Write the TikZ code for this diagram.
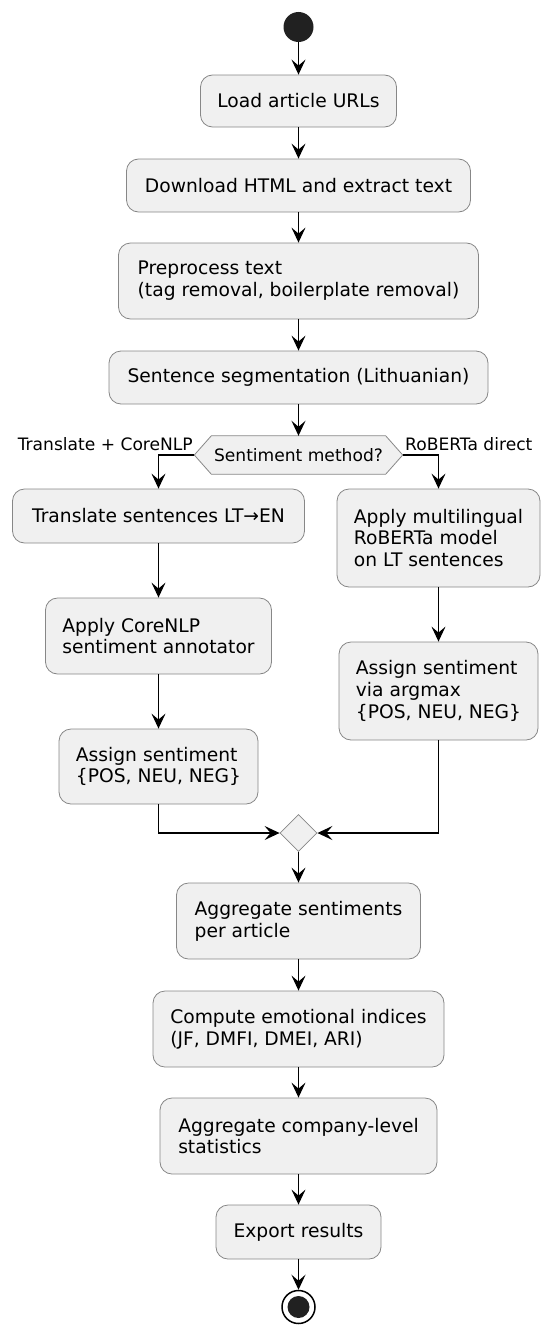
\documentclass[tikz,border=0pt]{standalone}
\usepackage{fontspec}
\setmainfont{DejaVu Sans}
\usetikzlibrary{arrows.meta,shapes.geometric}

\begin{document}
\begin{tikzpicture}[x=1pt,y=-1pt,
  act/.style={draw=black!47,fill=black!6,rounded corners=12pt,line width=0.8pt,
    align=left,inner sep=0pt,font=\fontsize{18.7}{21.8}\selectfont},
  gate/.style={draw=black!47,fill=black!6,line width=0.8pt},
  lbl/.style={inner sep=0pt,font=\fontsize{17.1}{20}\selectfont},
  flow/.style={line width=1.6pt,-{Stealth[length=15pt,width=14pt,inset=6pt]}}]
  \useasboundingbox (0,0) rectangle (550,1338);
  \node[circle,fill=black!87,minimum size=30pt,inner sep=0pt] (start) at (298.5,27) {};
  \node[act,minimum width=196pt,minimum height=52pt] (load) at (298.5,101) {Load article URLs};
  \node[act,minimum width=344pt,minimum height=53pt] (download) at (298.5,185.5) {Download HTML and extract text};
  \node[act,minimum width=360pt,minimum height=76pt] (prep) at (298.5,281) {Preprocess text\\(tag removal, boilerplate removal)};
  \node[act,minimum width=379pt,minimum height=53pt] (seg) at (298.5,377.5) {Sentence segmentation (Lithuanian)};
  \node[minimum width=208pt,minimum height=38pt,inner sep=0pt] (dec) at (298.5,455) {};
  \draw[gate] (dec.west) -- ([xshift=17pt]dec.north west) -- ([xshift=-17pt]dec.north east)
    -- (dec.east) -- ([xshift=-17pt]dec.south east) -- ([xshift=17pt]dec.south west) -- cycle;
  \node[lbl] (dectext) at (dec) {Sentiment method?};
  \node[lbl,anchor=east] (lblleft) at (193,444) {Translate + CoreNLP};
  \node[lbl,anchor=west] (lblright) at (405,444) {RoBERTa direct};
  \node[act,minimum width=292pt,minimum height=54pt] (translate) at (158.5,516) {Translate sentences LT→EN};
  \node[act,minimum width=226pt,minimum height=76pt] (corenlp) at (158.5,636) {Apply CoreNLP\\sentiment annotator};
  \node[act,minimum width=199pt,minimum height=75pt] (assignl) at (158.5,766.5) {Assign sentiment\\\{POS, NEU, NEG\}};
  \node[act,minimum width=203pt,minimum height=98pt] (roberta) at (438.5,538) {Apply multilingual\\RoBERTa model\\on LT sentences};
  \node[act,minimum width=199pt,minimum height=98pt] (assignr) at (438.5,691) {Assign sentiment\\via argmax\\\{POS, NEU, NEG\}};
  \node[diamond,gate,minimum width=37pt,minimum height=37pt,inner sep=0pt] (merge) at (298.5,833) {};
  \node[act,minimum width=244pt,minimum height=76pt] (aggart) at (298.5,921) {Aggregate sentiments\\per article};
  \node[act,minimum width=291pt,minimum height=76pt] (indices) at (298.5,1029) {Compute emotional indices\\(JF, DMFI, DMEI, ARI)};
  \node[act,minimum width=277pt,minimum height=76pt] (aggcomp) at (298.5,1136) {Aggregate company-level\\statistics};
  \node[act,minimum width=165pt,minimum height=54pt] (export) at (298.5,1232) {Export results};
  \node[circle,draw=black,line width=1.5pt,fill=white,minimum size=33pt,inner sep=0pt] (stop) at (298.5,1307) {};
  \node[circle,fill=black!87,minimum size=22pt,inner sep=0pt] (stopdot) at (stop) {};
  \draw[flow] (start) -- (load);
  \draw[flow] (load) -- (download);
  \draw[flow] (download) -- (prep);
  \draw[flow] (prep) -- (seg);
  \draw[flow] (seg) -- (dec);
  \draw[flow] (dec.west) -| (translate.north);
  \draw[flow] (dec.east) -| (roberta.north);
  \draw[flow] (translate) -- (corenlp);
  \draw[flow] (corenlp) -- (assignl);
  \draw[flow] (roberta) -- (assignr);
  \draw[flow] (assignl.south) |- (merge.west);
  \draw[flow] (assignr.south) |- (merge.east);
  \draw[flow] (merge) -- (aggart);
  \draw[flow] (aggart) -- (indices);
  \draw[flow] (indices) -- (aggcomp);
  \draw[flow] (aggcomp) -- (export);
  \draw[flow] (export) -- (stop);
\end{tikzpicture}
\end{document}
